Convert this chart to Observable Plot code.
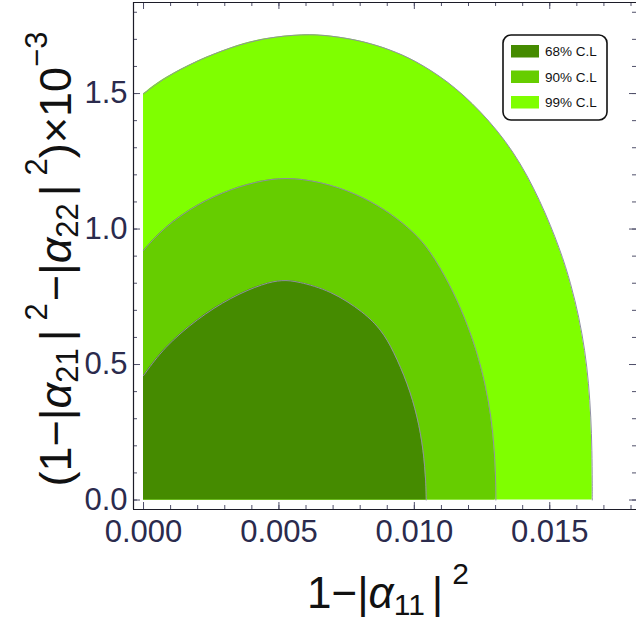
<!DOCTYPE html>
<html><head><meta charset="utf-8">
<script src="https://cdn.jsdelivr.net/npm/d3@7"></script>
<script src="https://cdn.jsdelivr.net/npm/@observablehq/plot@0.6"></script>
<style>body{margin:0;background:#fff;overflow:hidden}</style>
</head><body><div id="chart"></div>
<script>
// ---- data (x = 1-|a11|^2, y = (1-|a21|^2-|a22|^2) x 10^-3), upper boundaries ----
const cl99x = [0, 0.00076, 0.00199, 0.00322, 0.00445, 0.0059, 0.00691, 0.00814, 0.00913, 0.00999, 0.01122, 0.01245, 0.01368, 0.01466, 0.0154, 0.01578, 0.01608, 0.0163, 0.01644, 0.01652, 0.01656, 0.01657, 0.01657];
const cl99y = [1.499, 1.558, 1.622, 1.671, 1.705, 1.720, 1.714, 1.693, 1.661, 1.624, 1.548, 1.437, 1.289, 1.105, 0.921, 0.798, 0.675, 0.552, 0.429, 0.306, 0.183, 0.06, 0];
const cl90x = [0, 0.00076, 0.00199, 0.00322, 0.00445, 0.0055, 0.00691, 0.00814, 0.00913, 0.00999, 0.01058, 0.0113, 0.01186, 0.0123, 0.01262, 0.01284, 0.01296, 0.01301, 0.01301];
const cl90y = [0.921, 1.007, 1.093, 1.148, 1.182, 1.191, 1.166, 1.117, 1.058, 0.988, 0.921, 0.798, 0.675, 0.552, 0.429, 0.306, 0.183, 0.06, 0];
const cl68x = [0, 0.00076, 0.00199, 0.00322, 0.00445, 0.00513, 0.00568, 0.00691, 0.00814, 0.0088, 0.00922, 0.00976, 0.01012, 0.01034, 0.01043, 0.01044];
const cl68y = [0.459, 0.564, 0.669, 0.748, 0.800, 0.8125, 0.807, 0.773, 0.693, 0.625, 0.552, 0.429, 0.306, 0.183, 0.06, 0];

const levels = ["68% C.L", "90% C.L", "99% C.L"];
const colors = ["#458B00", "#66CD00", "#7FFF00"];

const xMajor = [0, 0.005, 0.010, 0.015];
const xMinor = [0, 0.001, 0.002, 0.003, 0.004, 0.005, 0.006, 0.007, 0.008, 0.009, 0.010, 0.011, 0.012, 0.013, 0.014, 0.015, 0.016, 0.017, 0.018];
const yMajor = [0, 0.5, 1.0, 1.5];
const yMinor = [0, 0.1, 0.2, 0.3, 0.4, 0.5, 0.6, 0.7, 0.8, 0.9, 1.0, 1.1, 1.2, 1.3, 1.4, 1.5, 1.6, 1.7, 1.8];
const xDomain = [-0.00037, 0.018203];
const yDomain = [-0.035, 1.836];

const toPts = (xs, ys) => xs.map((x, i) => ({x, y: ys[i]}));
const bands = [toPts(cl68x, cl68y), toPts(cl90x, cl90y), toPts(cl99x, cl99y)];

const W = 636, H = 624, mL = 133, mR = 0, mT = 2, mB = 115;
const innerW = W - mL - mR, innerH = H - mT - mB;
const tickColor = "#50506a";
const frameColor = "#1c1c28";
const FONT = "'Liberation Sans', Arial, sans-serif";

const bandMarks = [];
for (let i = 2; i >= 0; i--) {
  bandMarks.push(Plot.areaY(bands[i], {x: "x", y: "y", fill: colors[i], curve: "basis"}));
  bandMarks.push(Plot.line(bands[i], {x: "x", y: "y", stroke: "#8f8fa3", strokeWidth: 1, curve: "basis"}));
}

const plot = Plot.plot({
  width: W, height: H,
  marginLeft: mL, marginRight: mR, marginTop: mT, marginBottom: mB,
  x: {domain: xDomain},
  y: {domain: yDomain},
  style: {fontFamily: FONT, fontSize: "31px", color: "#2b2b4d", background: "white", overflow: "visible"},
  marks: [
    ...bandMarks,
    // inward ticks, bottom / top
    Plot.tickX(xMinor, {x: d => d, insetTop: innerH - 4, stroke: tickColor}),
    Plot.tickX(xMajor, {x: d => d, insetTop: innerH - 7, stroke: tickColor}),
    Plot.tickX(xMinor, {x: d => d, insetBottom: innerH - 4, stroke: tickColor}),
    Plot.tickX(xMajor, {x: d => d, insetBottom: innerH - 7, stroke: tickColor}),
    // inward ticks, left / right
    Plot.tickY(yMinor, {y: d => d, insetRight: innerW - 4, stroke: tickColor}),
    Plot.tickY(yMajor, {y: d => d, insetRight: innerW - 7, stroke: tickColor}),
    Plot.tickY(yMinor, {y: d => d, insetLeft: innerW - 4, stroke: tickColor}),
    Plot.tickY(yMajor, {y: d => d, insetLeft: innerW - 7, stroke: tickColor}),
    // tick labels
    Plot.axisX({ticks: xMajor, tickSize: 0, tickPadding: 10, tickFormat: d3.format(".3f"), label: null}),
    Plot.axisY({ticks: yMajor, tickSize: 0, tickPadding: 6, tickFormat: d3.format(".1f"), label: null}),
    // frame (left, top, bottom)
    Plot.ruleX([xDomain[0]], {stroke: frameColor, strokeWidth: 1.2}),
    Plot.ruleY([yDomain[0], yDomain[1]], {stroke: frameColor, strokeWidth: 1.2})
  ]
});
document.getElementById("chart").appendChild(plot);

const svg = d3.select(plot);
// x title
const xt = svg.append("text")
  .attr("x", 388).attr("y", 608)
  .attr("text-anchor", "middle")
  .style("font-family", FONT)
  .style("font-size", "44px").attr("fill", "#111");
xt.append("tspan").text("1\u2212|");
xt.append("tspan").attr("font-style", "italic").text("\u03B1");
xt.append("tspan").attr("font-size", "30px").attr("dy", 7).text("11");
xt.append("tspan").attr("dy", -7).attr("dx", 7).text("|");
xt.append("tspan").attr("font-size", "30px").attr("dy", -24).attr("dx", 9).text("2");

// y title
const yt = svg.append("text")
  .attr("transform", "translate(71,259) rotate(-90)")
  .attr("text-anchor", "middle")
  .style("font-family", FONT)
  .style("font-size", "45px").attr("fill", "#111");
yt.append("tspan").text("(1\u2212|");
yt.append("tspan").attr("font-style", "italic").text("\u03B1");
yt.append("tspan").attr("font-size", "31px").attr("dy", 7).text("21");
yt.append("tspan").attr("dy", -7).attr("dx", 7).text("|");
yt.append("tspan").attr("font-size", "31px").attr("dy", -24).attr("dx", 9).text("2");
yt.append("tspan").attr("dy", 24).attr("dx", 2).text("\u2212|");
yt.append("tspan").attr("font-style", "italic").text("\u03B1");
yt.append("tspan").attr("font-size", "31px").attr("dy", 7).text("22");
yt.append("tspan").attr("dy", -7).attr("dx", 7).text("|");
yt.append("tspan").attr("font-size", "31px").attr("dy", -24).attr("dx", 9).text("2");
yt.append("tspan").attr("dy", 24).text(")\u00D710");
yt.append("tspan").attr("font-size", "31px").attr("dy", -24).text("\u22123");

// legend
const lg = svg.append("g").style("font-family", FONT).attr("text-anchor", "start");
lg.append("rect").attr("x", 503).attr("y", 35).attr("width", 104).attr("height", 85)
  .attr("rx", 8).attr("fill", "white").attr("stroke", "#111").attr("stroke-width", 1.6);
levels.forEach((lab, i) => {
  const y0 = 45 + i * 25.5;
  lg.append("rect").attr("x", 511).attr("y", y0).attr("width", 28).attr("height", 12.5).attr("fill", colors[i]);
  lg.append("text").attr("x", 545).attr("y", y0 + 11).attr("text-anchor", "start")
    .style("font-size", "13.5px").attr("fill", "#111").text(lab);
});
</script></body></html>
